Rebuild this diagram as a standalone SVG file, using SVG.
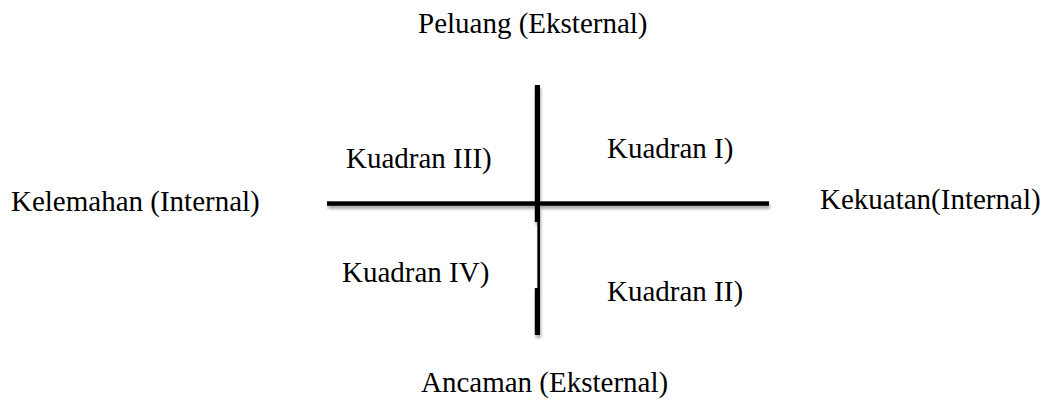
<svg xmlns="http://www.w3.org/2000/svg" width="1047" height="407" viewBox="0 0 1047 407">
  <style>
    .lbl { font-family: "Liberation Serif", "Times New Roman", serif; font-size: 29px; fill: #000; }
    .axis { fill: #000; }
  </style>
  <defs>
    <filter id="sh" x="-10%" y="-50%" width="120%" height="300%">
      <feGaussianBlur in="SourceAlpha" stdDeviation="1.5"/>
      <feOffset dx="1" dy="3" result="b"/>
      <feComponentTransfer><feFuncA type="linear" slope="0.35"/></feComponentTransfer>
      <feMerge><feMergeNode/><feMergeNode in="SourceGraphic"/></feMerge>
    </filter>
  </defs>
  <rect width="1047" height="407" fill="#fff"/>
  <g id="connectors" filter="url(#sh)">
    <rect class="axis" x="327" y="201.3" width="442" height="4.5"/>
    <rect class="axis" x="534.8" y="85" width="5.2" height="137"/>
    <rect class="axis" x="537.4" y="222" width="2.6" height="66"/>
    <rect class="axis" x="534.8" y="288" width="5.2" height="47"/>
  </g>
  <g id="peluang"><text class="lbl" x="418" y="33">Peluang (Eksternal)</text></g>
  <g id="kelemahan"><text class="lbl" x="11" y="211">Kelemahan (Internal)</text></g>
  <g id="kekuatan"><text class="lbl" x="820" y="209">Kekuatan(Internal)</text></g>
  <g id="ancaman"><text class="lbl" x="421" y="392">Ancaman (Eksternal)</text></g>
  <g id="kuadran3"><text class="lbl" x="346" y="168">Kuadran III)</text></g>
  <g id="kuadran1"><text class="lbl" x="607" y="158">Kuadran I)</text></g>
  <g id="kuadran4"><text class="lbl" x="342" y="282">Kuadran IV)</text></g>
  <g id="kuadran2"><text class="lbl" x="607" y="301">Kuadran II)</text></g>
</svg>
